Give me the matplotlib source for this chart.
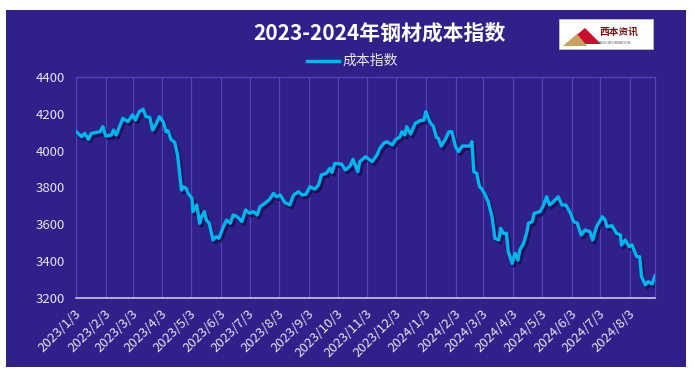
import pandas as pd
import numpy as np
import matplotlib
matplotlib.use("Agg")
import matplotlib.pyplot as plt
import matplotlib.patheffects as pe
import matplotlib.transforms as mtrans
from matplotlib.patches import Rectangle, Polygon

plt.rcParams['font.family'] = ['Noto Sans CJK SC', 'DejaVu Sans']

# days after 2023-01-03 and index value
start = pd.Timestamp("2023-01-03")
days = [0, 6, 9, 13, 16, 25, 28, 31, 37, 39, 42, 46, 49, 54, 59, 62, 66, 70, 73, 77,
        80, 84, 87, 91, 94, 96, 99, 103, 106, 110, 112, 115, 117, 121, 122, 126, 129,
        131, 134, 136, 139, 143, 146, 149, 153, 157, 161, 164, 168, 173, 177, 181, 185,
        189, 192, 197, 202, 206, 209, 213, 218, 223, 227, 232, 236, 240, 244, 249, 253,
        256, 261, 265, 267, 270, 277, 281, 286, 289, 294, 296, 302, 309, 314, 317, 321,
        324, 330, 333, 338, 340, 343, 345, 349, 354, 359, 363, 365, 369, 373, 376, 378,
        381, 385, 389, 392, 396, 399, 403, 411, 413, 415, 418, 421, 423, 427, 430, 434,
        437, 441, 443, 446, 449, 451, 455, 458, 461, 463, 467, 470, 472, 476, 478, 484,
        487, 491, 494, 498, 503, 507, 511, 516, 519, 523, 527, 531, 536, 539, 543, 549,
        552, 554, 559, 564, 568, 569, 573, 577, 580, 585, 588, 590, 594, 597, 601, 604]
cost_index = [4103, 4076, 4094, 4062, 4094, 4103, 4130, 4080, 4085, 4112, 4085, 4139, 4176,
              4157, 4194, 4166, 4212, 4225, 4185, 4180, 4112, 4149, 4185, 4157, 4103, 4108,
              4062, 4044, 3977, 3786, 3804, 3795, 3768, 3741, 3669, 3705, 3606, 3641, 3669,
              3623, 3606, 3515, 3533, 3524, 3578, 3623, 3606, 3651, 3642, 3615, 3678, 3660,
              3669, 3651, 3696, 3714, 3736, 3768, 3750, 3759, 3718, 3705, 3759, 3777, 3759,
              3764, 3804, 3791, 3813, 3868, 3877, 3904, 3882, 3931, 3927, 3895, 3918, 3953,
              3886, 3940, 3967, 3940, 3977, 4013, 4040, 4049, 4031, 4058, 4076, 4103, 4085,
              4130, 4090, 4149, 4163, 4166, 4212, 4157, 4130, 4072, 4067, 4025, 4058, 4103,
              4103, 4022, 3995, 4025, 4025, 4049, 3886, 3877, 3804, 3795, 3759, 3723, 3641,
              3524, 3515, 3578, 3551, 3551, 3451, 3388, 3443, 3406, 3461, 3497, 3551, 3606,
              3615, 3660, 3669, 3696, 3750, 3705, 3723, 3750, 3705, 3705, 3660, 3615, 3606,
              3542, 3569, 3560, 3515, 3587, 3641, 3623, 3587, 3593, 3551, 3542, 3488, 3515,
              3479, 3488, 3424, 3424, 3316, 3271, 3289, 3276, 3320]
tick_dates = pd.date_range("2023-01-01", periods=20, freq="MS") + pd.Timedelta(days=2)
tick_labels = ["%d/%d/%d" % (d.year, d.month, d.day) for d in tick_dates]

dates = start + pd.to_timedelta(days, unit="D")

bg = "#30208a"
grid_c = "#5443bd"
fig = plt.figure(figsize=(6.95, 3.74), dpi=100, facecolor="white")
fig.patches.append(Rectangle((6 / 695, 1 - 367 / 374), 680 / 695, 357 / 374,
                             transform=fig.transFigure, facecolor=bg, edgecolor="none", zorder=-5))

ax = fig.add_axes([76 / 695, 1 - 298 / 374, 579 / 695, 221 / 374])
ax.set_facecolor(bg)
ax.plot(dates, cost_index, color="#00b6ec", lw=2.4, solid_joinstyle="round", zorder=3,
        path_effects=[pe.SimpleLineShadow(offset=(1.5, -2), shadow_color="#0a0640", alpha=0.6),
                      pe.Normal()])
ax.set_xlim(start, start + pd.Timedelta(days=604))
ax.set_ylim(3200, 4400)
ax.set_yticks(np.arange(3200, 4401, 200))
ax.set_xticks(tick_dates)
ax.set_xticklabels(tick_labels, rotation=45, ha="right", va="center", rotation_mode="anchor")
ax.tick_params(axis="both", length=0, colors="#e6e6f2", labelsize=9.5)
ax.tick_params(axis="x", pad=10)
ax.tick_params(axis="y", pad=8)
shift = mtrans.ScaledTranslation(3 / 100, 0, fig.dpi_scale_trans)
for lab in ax.get_xticklabels():
    lab.set_transform(lab.get_transform() + shift)
ax.grid(axis="x", color=grid_c, lw=0.9)
for s in ["top", "right"]:
    ax.spines[s].set_color(grid_c)
    ax.spines[s].set_linewidth(0.9)
ax.spines["left"].set_visible(False)
ax.spines["bottom"].set_color("#c9c6e0")
ax.spines["bottom"].set_linewidth(1.2)

fig.text(379 / 695, 1 - 33 / 374, "2023-2024年钢材成本指数", color="white", fontsize=15,
         fontweight="bold", ha="center", va="center")
fig.lines.append(plt.Line2D([307 / 695, 339 / 695], [1 - 61 / 374] * 2, transform=fig.transFigure,
                            color="#00b6ec", lw=2.5))
fig.text(342 / 695, 1 - 61 / 374, "成本指数", color="#e6e6f2", fontsize=10, va="center")

# logo box
fig.patches.append(Rectangle((559 / 695, 1 - 49 / 374), 94 / 695, 30 / 374, transform=fig.transFigure,
                             facecolor="white", edgecolor="#cccccc", lw=0.5, zorder=2))
fig.patches.append(Polygon([(566 / 695, 1 - 44 / 374), (585 / 695, 1 - 28 / 374), (601 / 695, 1 - 44 / 374)],
                           closed=True, transform=fig.transFigure, facecolor="#c8102e", zorder=3))
fig.patches.append(Polygon([(563 / 695, 1 - 46 / 374), (577 / 695, 1 - 34 / 374), (587 / 695, 1 - 46 / 374)],
                           closed=True, transform=fig.transFigure, facecolor="#c9a063", zorder=4))
fig.text(619 / 695, 1 - 32 / 374, "西本资讯", color="#7a1010", fontsize=7, fontweight="bold",
         ha="center", va="center", zorder=5)
fig.text(613 / 695, 1 - 43 / 374, "XIBEN INFORMATION", color="#555555", fontsize=2.5,
         ha="center", va="center", zorder=5)

fig.savefig("out.png", dpi=100, facecolor="white")
